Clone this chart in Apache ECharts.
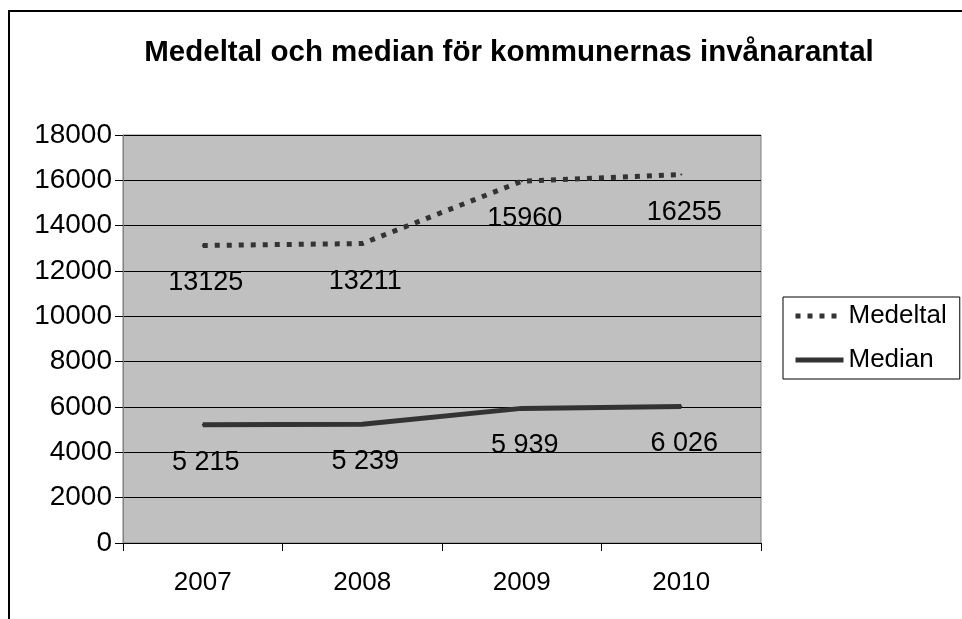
<!DOCTYPE html>
<html>
<head>
<meta charset="utf-8">
<script src="https://cdn.jsdelivr.net/npm/echarts@6/dist/echarts.min.js"></script>
<style>
html,body{margin:0;padding:0;background:#fff;}
#chart{width:962px;height:619px;}
</style>
</head>
<body>
<div id="chart"></div>
<script>
const titleText = 'Medeltal och median för kommunernas invånarantal';
const categories = ['2007', '2008', '2009', '2010'];
const medeltal = [13125, 13211, 15960, 16255];
const median = [5215, 5239, 5939, 6026];
const seriesNames = ['Medeltal', 'Median'];
const yMin = 0, yMax = 18000, yStep = 2000;

const FONT = '"Liberation Sans", Arial, sans-serif';
const chart = echarts.init(document.getElementById('chart'), null, {renderer: 'canvas'});

function spaced(v) {
  return String(v).replace(/\B(?=(\d{3})+(?!\d))/g, ' ');
}

const labelBase = {
  show: true,
  position: 'bottom',
  distance: 23,
  offset: [3, 0],
  fontFamily: FONT,
  fontSize: 27,
  color: '#000'
};

const dotted = [5, 7];

chart.setOption({
  backgroundColor: '#fff',
  animation: false,
  textStyle: {fontFamily: FONT},
  graphic: [{
    type: 'rect',
    shape: {x: 9, y: 11, width: 1000, height: 700},
    style: {fill: 'none', stroke: '#000', lineWidth: 2},
    silent: true,
    z: -10
  }],
  title: {
    text: titleText,
    left: 509,
    textAlign: 'center',
    top: 38,
    padding: 0,
    textStyle: {fontFamily: FONT, fontSize: 29.5, fontWeight: 'bold', color: '#000'}
  },
  legend: {
    orient: 'vertical',
    left: 783,
    top: 297,
    padding: [6, 13, 6, 10],
    itemGap: 18,
    itemWidth: 48,
    itemHeight: 2,
    borderColor: '#000',
    borderWidth: 1,
    backgroundColor: '#fff',
    itemStyle: {opacity: 0},
    textStyle: {fontFamily: FONT, fontSize: 26, color: '#000'},
    data: [
      {name: seriesNames[0], lineStyle: {width: 5, type: dotted, color: '#333333', cap: 'butt'}},
      {name: seriesNames[1], lineStyle: {width: 5, type: 'solid', color: '#333333'}}
    ]
  },
  grid: {
    left: 123, right: 201, top: 135, bottom: 76,
    show: true,
    backgroundColor: '#C0C0C0',
    borderColor: '#808080',
    borderWidth: 1
  },
  xAxis: {
    type: 'category',
    data: categories,
    boundaryGap: true,
    axisLine: {lineStyle: {color: '#000', width: 1}},
    axisTick: {show: true, length: 8, inside: false, alignWithLabel: false, lineStyle: {color: '#000'}},
    axisLabel: {fontFamily: FONT, fontSize: 26, color: '#000', margin: 27}
  },
  yAxis: {
    type: 'value',
    min: yMin, max: yMax, interval: yStep,
    axisLine: {show: true, lineStyle: {color: '#808080', width: 1}},
    axisTick: {show: true, length: 8, lineStyle: {color: '#000'}},
    axisLabel: {fontFamily: FONT, fontSize: 28, color: '#000', margin: 11, formatter: v => String(v)},
    splitLine: {show: true, lineStyle: {color: '#000', width: 1}}
  },
  series: [{
    name: seriesNames[0],
    type: 'line',
    data: medeltal,
    symbol: 'circle',
    symbolSize: 2,
    itemStyle: {color: '#333333'},
    lineStyle: {color: '#333333', width: 5, type: dotted, cap: 'butt'},
    label: Object.assign({}, labelBase, {formatter: p => String(p.value)}),
    z: 3
  }, {
    name: seriesNames[1],
    type: 'line',
    data: median,
    symbol: 'circle',
    symbolSize: 2,
    itemStyle: {color: '#333333'},
    lineStyle: {color: '#333333', width: 5, type: 'solid'},
    label: Object.assign({}, labelBase, {formatter: p => spaced(p.value)}),
    z: 3
  }]
});
</script>
</body>
</html>
